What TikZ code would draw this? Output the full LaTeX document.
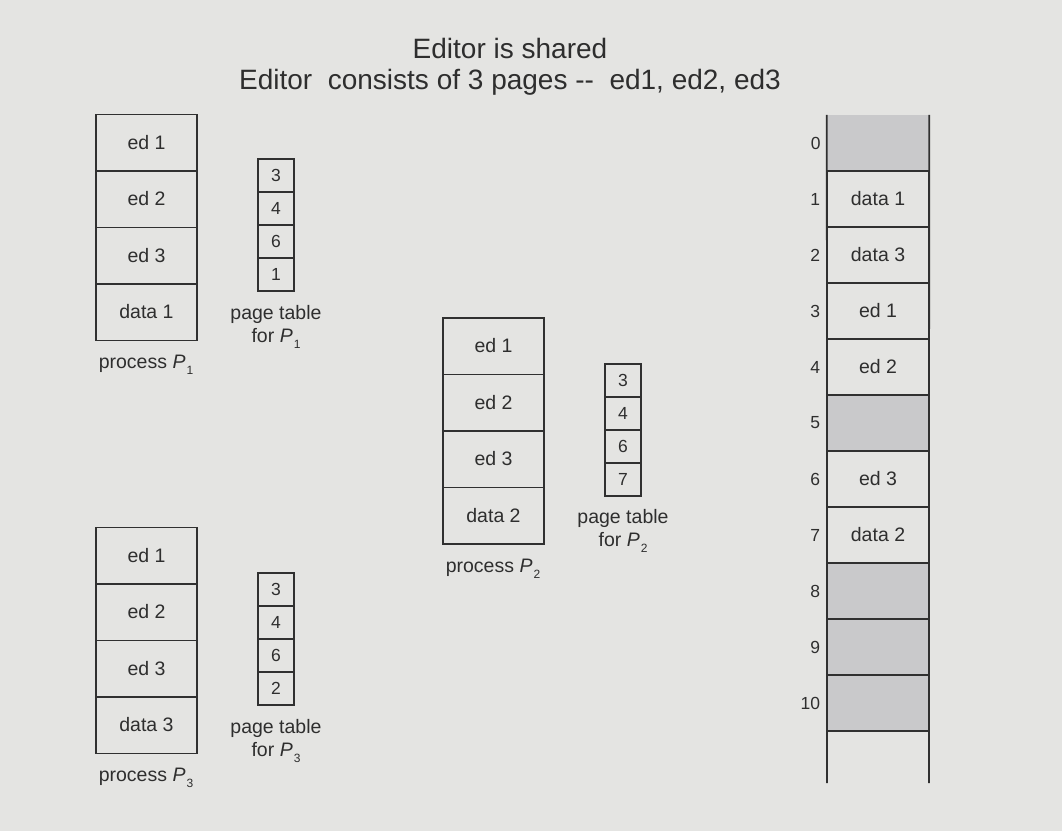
\documentclass[tikz,border=0pt]{standalone}
\usepackage{fontspec}
\setmainfont{Liberation Sans}
\usetikzlibrary{positioning}

\definecolor{bgc}{HTML}{E4E4E2}
\definecolor{linec}{HTML}{303030}
\definecolor{txtc}{HTML}{2E2E2E}
\definecolor{freec}{HTML}{C9C9CB}

\newcommand{\procname}[1]{\textit{P}\kern1pt\raisebox{-0.55ex}{\fontsize{12}{13}\selectfont #1}}

\tikzset{
  pagebox/.style={draw=linec, line width=1.5pt, minimum width=101pt, minimum height=56.5pt,
    inner sep=0pt, text=txtc, font=\fontsize{19.5}{22}\selectfont},
  ptcell/.style={draw=linec, line width=1.5pt, minimum width=36pt, minimum height=33pt,
    inner sep=0pt, text=txtc, font=\fontsize{17.5}{19}\selectfont},
  framebox/.style={draw=linec, line width=1.5pt, minimum width=102pt, minimum height=55.9pt,
    inner sep=0pt, text=txtc, font=\fontsize{19.5}{22}\selectfont},
  freebox/.style={framebox, fill=freec},
  fnum/.style={text=txtc, inner sep=0pt, font=\fontsize{17.5}{19}\selectfont},
  caption/.style={text=txtc, align=center, inner sep=0pt, font=\fontsize{19.5}{23}\selectfont},
  heading/.style={text=txtc, inner sep=0pt, font=\fontsize{28}{33}\selectfont}
}

\begin{document}
\begin{tikzpicture}[x=1pt,y=-1pt]
        \useasboundingbox[fill=bgc] (0,0) rectangle (1062,831);

        \node[heading] (title1) at (510,48) {Editor is shared};
        \node[heading] (title2) at (510,82) {Editor\ \ consists of 3 pages -{}-\ \ ed1, ed2, ed3};

        % process P1 and its page table
        \node[pagebox] (pa1) at (146.5,142.5) {ed 1};
        \node[pagebox] (pa2) at (146.5,199) {ed 2};
        \node[pagebox] (pa3) at (146.5,255.5) {ed 3};
        \node[pagebox] (pa4) at (146.5,312) {data 1};
        \node[caption] (pacap) at (146,365) {process \procname{1}};

        \node[ptcell] (ta1) at (276,175.5) {3};
        \node[ptcell] (ta2) at (276,208.5) {4};
        \node[ptcell] (ta3) at (276,241.5) {6};
        \node[ptcell] (ta4) at (276,274.5) {1};
        \node[caption] (tacap) at (276,327) {page table\\for \procname{1}};

        % process P2 and its page table
        \node[pagebox] (pb1) at (493.5,346) {ed 1};
        \node[pagebox] (pb2) at (493.5,402.5) {ed 2};
        \node[pagebox] (pb3) at (493.5,459) {ed 3};
        \node[pagebox] (pb4) at (493.5,515.5) {data 2};
        \node[caption] (pbcap) at (493,569) {process \procname{2}};

        \node[ptcell] (tb1) at (623,380.5) {3};
        \node[ptcell] (tb2) at (623,413.5) {4};
        \node[ptcell] (tb3) at (623,446.5) {6};
        \node[ptcell] (tb4) at (623,479.5) {7};
        \node[caption] (tbcap) at (623,531) {page table\\for \procname{2}};

        % process P3 and its page table
        \node[pagebox] (pc1) at (146.5,555.5) {ed 1};
        \node[pagebox] (pc2) at (146.5,612) {ed 2};
        \node[pagebox] (pc3) at (146.5,668.5) {ed 3};
        \node[pagebox] (pc4) at (146.5,725) {data 3};
        \node[caption] (pccap) at (146,778) {process \procname{3}};

        \node[ptcell] (tc1) at (276,589.5) {3};
        \node[ptcell] (tc2) at (276,622.5) {4};
        \node[ptcell] (tc3) at (276,655.5) {6};
        \node[ptcell] (tc4) at (276,688.5) {2};
        \node[caption] (tccap) at (276,741) {page table\\for \procname{3}};

        % physical memory
        \node[minimum width=102pt, minimum height=55.9pt, fill=freec] (m0) at (878,143) {};
        \node[framebox] (m1) at (878,199) {data 1};
        \node[framebox] (m2) at (878,255) {data 3};
        \node[framebox] (m3) at (878,311) {ed 1};
        \node[framebox] (m4) at (878,367) {ed 2};
        \node[freebox] (m5) at (878,423) {};
        \node[framebox] (m6) at (878,479) {ed 3};
        \node[framebox] (m7) at (878,535) {data 2};
        \node[freebox] (m8) at (878,591) {};
        \node[freebox] (m9) at (878,647) {};
        \node[freebox] (m10) at (878,703) {};

        \coordinate (railL) at (827,783);
        \coordinate (railR) at (929,783);
        \draw[linec, line width=1.7pt] (m0.north west) -- (railL);
        \draw[linec, line width=1.7pt] (m0.north east) -- (railR);

        \node[fnum, left=6pt of m0] (n0) {0};
        \node[fnum, left=6pt of m1] (n1) {1};
        \node[fnum, left=6pt of m2] (n2) {2};
        \node[fnum, left=6pt of m3] (n3) {3};
        \node[fnum, left=6pt of m4] (n4) {4};
        \node[fnum, left=6pt of m5] (n5) {5};
        \node[fnum, left=6pt of m6] (n6) {6};
        \node[fnum, left=6pt of m7] (n7) {7};
        \node[fnum, left=6pt of m8] (n8) {8};
        \node[fnum, left=6pt of m9] (n9) {9};
        \node[fnum, left=6pt of m10] (n10) {10};
\end{tikzpicture}
\end{document}
